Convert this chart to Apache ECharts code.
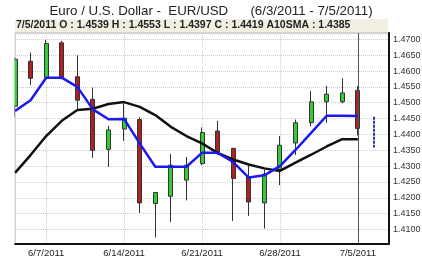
<!DOCTYPE html>
<html><head><meta charset="utf-8">
<script src="https://cdn.jsdelivr.net/npm/echarts@6/dist/echarts.min.js"></script>
<style>html,body{margin:0;padding:0;background:#fff;}#c{width:422px;height:259px;}</style>
</head><body><div id="c"></div>
<script>
var dates = ['6/3/2011','6/6/2011','6/7/2011','6/8/2011','6/9/2011','6/10/2011','6/13/2011','6/14/2011','6/15/2011','6/16/2011','6/17/2011','6/20/2011','6/21/2011','6/22/2011','6/23/2011','6/24/2011','6/27/2011','6/28/2011','6/29/2011','6/30/2011','7/1/2011','7/4/2011','7/5/2011','7/6/2011','7/7/2011'];
var opens  = [1.4489,1.4631,1.4580,1.4689,1.4582,1.4511,1.4353,1.4417,1.4447,1.4182,1.4205,1.4256,1.4308,1.4411,1.4356,1.4266,1.4184,1.4289,1.4373,1.4437,1.4503,1.4503,1.4539];
var closes = [1.4637,1.4577,1.4687,1.4580,1.4508,1.4350,1.4414,1.4451,1.4184,1.4217,1.4303,1.4303,1.4406,1.4345,1.4261,1.4187,1.4275,1.4366,1.4437,1.4503,1.4527,1.4531,1.4419];
var lows   = [1.4455,1.4556,1.4571,1.4574,1.4477,1.4326,1.4298,1.4380,1.4152,1.4075,1.4124,1.4192,1.4303,1.4335,1.4127,1.4143,1.4103,1.4240,1.4335,1.4426,1.4437,1.4498,1.4397];
var highs  = [1.4644,1.4658,1.4698,1.4695,1.4650,1.4548,1.4427,1.4498,1.4454,1.4218,1.4338,1.4329,1.4422,1.4443,1.4358,1.4303,1.4289,1.4395,1.4447,1.4537,1.4553,1.4577,1.4553];
var fastMA = [1.4474,1.4508,1.4579,1.4579,1.4550,1.4479,1.4448,1.4449,1.4372,1.4298,1.4298,1.4298,1.4342,1.4342,1.4313,1.4264,1.4271,1.4300,1.4351,1.4405,1.4459,1.4459,1.4458];
var sma10  = [1.4279,1.4335,1.4395,1.4443,1.4477,1.4481,1.4496,1.4502,1.4487,1.4461,1.4424,1.4395,1.4372,1.4342,1.4321,1.4305,1.4293,1.4285,1.4311,1.4336,1.4362,1.4385,1.4385];
var projDate = '7/6/2011';
var projRange = [1.4456, 1.4359];
var cursorDate = '7/5/2011';
var titleText = 'Euro / U.S. Dollar -  EUR/USD      (6/3/2011 - 7/5/2011)';
var infoText = '7/5/2011 O : 1.4539 H : 1.4553 L : 1.4397 C : 1.4419 A10SMA : 1.4385';
var yMin = 1.4056, yMax = 1.4720, yStep = 0.005;

var ohlc = opens.map(function(o,i){ return [o, closes[i], lows[i], highs[i]]; });
var labelIdx = function(i){ return i % 5 === 2; };

var chart = echarts.init(document.getElementById('c'));
chart.setOption({
  animation: false,
  title: { text: titleText, left: 'center', top: 0, textStyle: { fontFamily: 'Liberation Sans', fontSize: 13.3, fontWeight: 'normal', color: '#222' } },
  graphic: [
    { type: 'rect', shape: { x: 15, y: 19, width: 373, height: 13 }, style: { fill: '#f1efe2' }, z: 0 },
    { type: 'text', left: 16, top: 20, style: { text: infoText, font: 'bold 10.5px "Liberation Sans"', fill: '#222' }, z: 1 },
    { type: 'rect', shape: { x: 0, y: 33, width: 14.5, height: 211 }, style: { fill: '#fff' }, z: 100 }
  ],
  grid: { left: 15, right: 33, top: 33, bottom: 15.5, show: true, borderColor: '#aaa', borderWidth: 1, containLabel: false, outerBoundsMode: 'none' },
  xAxis: {
    type: 'category', data: dates, boundaryGap: false,
    axisLine: { lineStyle: { color: '#111', width: 2 } },
    axisTick: { show: false },
    axisLabel: { interval: function(i){ return labelIdx(i); }, color: '#222', fontFamily: 'Liberation Sans', fontSize: 9.5, margin: 5 },
    splitLine: { show: true, interval: function(i){ return labelIdx(i); }, lineStyle: { color: '#ccc', type: 'dotted' } }
  },
  yAxis: {
    type: 'value', position: 'right', min: yMin, max: yMax, splitNumber: 13, scale: true,
    axisLine: { show: true, lineStyle: { color: '#111', width: 2 } },
    axisTick: { show: false },
    axisLabel: { color: '#333', fontFamily: 'Liberation Sans', fontSize: 9, margin: 4,
      formatter: function(v){ var k = v / yStep; return Math.abs(k - Math.round(k)) < 1e-6 ? v.toFixed(4) : ''; } },
    splitLine: { lineStyle: { color: '#ccc', type: 'dotted' } }
  },
  series: [
    { type: 'candlestick', data: ohlc, barWidth: 4.5, clip: true,
      itemStyle: { color: '#33cc33', color0: '#b02020', borderColor: '#333', borderColor0: '#333', borderWidth: 1 },
      markLine: { symbol: 'none', silent: true, label: { show: false },
        lineStyle: { color: '#555', width: 1, type: 'solid' },
        data: [{ xAxis: cursorDate }] }
    },
    { type: 'line', data: sma10, symbol: 'none', lineStyle: { color: '#111', width: 2.5 }, z: 3 },
    { type: 'line', data: fastMA, symbol: 'none', lineStyle: { color: '#1a1aee', width: 2.5 }, z: 4,
      markLine: { symbol: 'none', silent: true, label: { show: false },
        lineStyle: { color: '#2a3aa8', width: 2, type: [3, 1] },
        data: [[{ coord: [projDate, projRange[0]] }, { coord: [projDate, projRange[1]] }]] }
    }
  ]
});
</script></body></html>
